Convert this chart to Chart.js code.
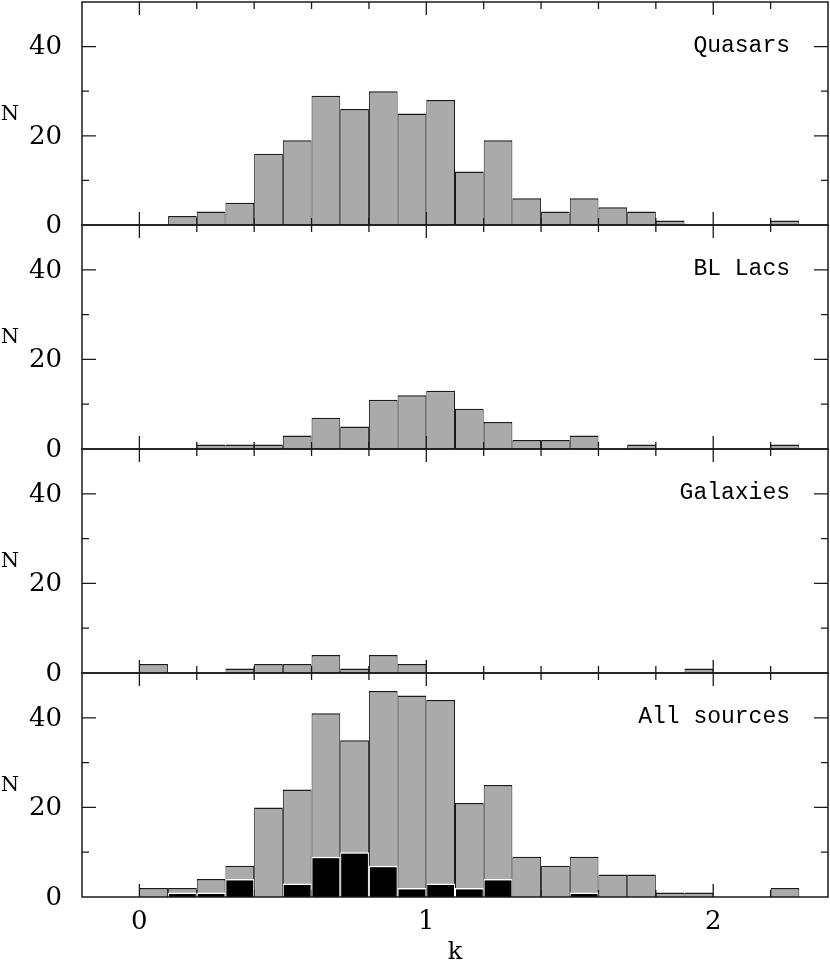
<!DOCTYPE html>
<html>
<head>
<meta charset="utf-8">
<script src="https://cdn.jsdelivr.net/npm/chart.js@4.4.1/dist/chart.umd.min.js"></script>
<style>
html,body{margin:0;padding:0;background:#ffffff;}
#wrap{position:relative;width:830px;height:966px;overflow:hidden;}
#wrap canvas{position:absolute;left:0;top:0;}
</style>
</head>
<body>
<div id="wrap">
<canvas id="c0" width="830" height="966"></canvas>
<canvas id="c1" width="830" height="966"></canvas>
<canvas id="c2" width="830" height="966"></canvas>
<canvas id="c3" width="830" height="966"></canvas>
</div>
<script>
// ---- data ----
const binCenters = [0.05,0.15,0.25,0.35,0.45,0.55,0.65,0.75,0.85,0.95,1.05,1.15,1.25,1.35,1.45,1.55,1.65,1.75,1.85,1.95,2.05,2.15,2.25,2.35];
const quasars    = [0,2,3,5,16,19,29,26,30,25,28,12,19,6,3,6,4,3,1,0,0,0,1,0];
const blLacs     = [0,0,1,1,1,3,7,5,11,12,13,9,6,2,2,3,0,1,0,0,0,0,1,0];
const galaxies   = [2,0,0,1,2,2,4,1,4,2,0,0,0,0,0,0,0,0,0,1,0,0,0,0];
const allSources = [2,2,4,7,20,24,41,35,46,45,44,21,25,9,7,9,5,5,1,1,0,0,2,0];
const allSourcesSubset = [0,1,1,4,0,3,9,10,7,2,3,2,4,0,0,1,0,0,0,0,0,0,0,0];
const panelNames = ['Quasars','BL Lacs','Galaxies','All sources'];
const xMajorTicks = [0,1,2];
const xMinorTicks = [0.2,0.4,0.6,0.8,1.2,1.4,1.6,1.8,2.2];
const xTickLabels = ['0','1','2'];
const yMajorTicks = [20,40];
const yMinorTicks = [10,30];
const yTickValues = [0,20,40];
const yTickLabels = ['0','20','40'];
const xTitle = 'k';
const yTitle = 'N';

// ---- layout ----
const W = 830, H = 966;
const PLOT_LEFT = 82, PLOT_RIGHT = 828;
const panelTops = [2,225,449,673];
const panelBottoms = [225,449,673,897];
const INK = '#1a1a1a';
const GRAY = '#aaaaaa';
const numFont = '26px "DejaVu Serif"';

const panelPlugin = {
  id: 'panel',
  beforeDatasetsDraw(chart) {
    const {ctx, chartArea: a, scales: {x, y}} = chart;
    ctx.save();
    ctx.strokeStyle = INK;
    ctx.lineWidth = 1.3;
    ctx.beginPath();
    const xt = (v, len) => {
      const px = x.getPixelForValue(v);
      ctx.moveTo(px, a.bottom); ctx.lineTo(px, a.bottom - len);
      ctx.moveTo(px, a.top); ctx.lineTo(px, a.top + len);
    };
    xMajorTicks.forEach(v => xt(v, 13));
    xMinorTicks.forEach(v => xt(v, 7));
    const yt = (v, len) => {
      const py = y.getPixelForValue(v);
      ctx.moveTo(a.left, py); ctx.lineTo(a.left + len, py);
      ctx.moveTo(a.right, py); ctx.lineTo(a.right - len, py);
    };
    yMajorTicks.forEach(v => yt(v, 14));
    yMinorTicks.forEach(v => yt(v, 7));
    ctx.stroke();
    ctx.restore();
  },
  afterDatasetsDraw(chart, args, opts) {
    const {ctx, chartArea: a, scales: {x, y}} = chart;
    ctx.save();
    ctx.strokeStyle = INK;
    ctx.lineWidth = 1.5;
    ctx.strokeRect(a.left, a.top, a.right - a.left, a.bottom - a.top);
    ctx.fillStyle = '#000';
    // y tick labels
    ctx.font = numFont;
    ctx.textAlign = 'right';
    ctx.textBaseline = 'middle';
    yTickValues.forEach((v, i) => ctx.fillText(yTickLabels[i], 62, y.getPixelForValue(v) + 1));
    // y title
    ctx.font = '21px "DejaVu Serif"';
    ctx.textAlign = 'center';
    ctx.fillText(yTitle, 10, (a.top + a.bottom) / 2 + 1);
    // panel name
    ctx.font = '23px "Liberation Mono"';
    ctx.textAlign = 'right';
    ctx.textBaseline = 'alphabetic';
    ctx.fillText(opts.name, 790, y.getPixelForValue(40) + 5);
    if (opts.showX) {
      ctx.font = numFont;
      ctx.textAlign = 'center';
      ctx.textBaseline = 'middle';
      xMajorTicks.forEach((v, i) => ctx.fillText(xTickLabels[i], x.getPixelForValue(v), 922));
      ctx.font = '24px "DejaVu Serif"';
      ctx.fillText(xTitle, (a.left + a.right) / 2, 953);
    }
    ctx.restore();
  }
};

function series(values, color, border, order) {
  return {
    data: binCenters.map((c, i) => ({x: c, y: values[i]})),
    backgroundColor: color,
    borderColor: border,
    borderWidth: {top: 1.5, left: 1, right: 1, bottom: 0},
    borderSkipped: 'start',
    barPercentage: 1,
    categoryPercentage: 1,
    grouped: false,
    order: order,
    inflateAmount: 0
  };
}

function makePanel(idx, datasets, name, showX) {
  new Chart(document.getElementById('c' + idx), {
    type: 'bar',
    data: {datasets},
    options: {
      responsive: false,
      animation: false,
      devicePixelRatio: 1,
      layout: {padding: {left: PLOT_LEFT, right: W - PLOT_RIGHT, top: panelTops[idx], bottom: H - panelBottoms[idx]}},
      plugins: {legend: {display: false}, tooltip: {enabled: false}, panel: {name, showX}},
      scales: {
        x: {
          type: 'linear', min: -0.2, max: 2.4, offset: false, display: false,
          afterBuildTicks: s => { s.ticks = xMinorTicks.concat(xMajorTicks).sort((p, q) => p - q).map(v => ({value: v})); }
        },
        y: {type: 'linear', min: 0, max: 50, display: false}
      }
    },
    plugins: [panelPlugin]
  });
}

makePanel(0, [series(quasars, GRAY, INK, 1)], panelNames[0], false);
makePanel(1, [series(blLacs, GRAY, INK, 1)], panelNames[1], false);
makePanel(2, [series(galaxies, GRAY, INK, 1)], panelNames[2], false);
makePanel(3, [series(allSourcesSubset, '#000000', '#ffffff', 0), series(allSources, GRAY, INK, 1)], panelNames[3], true);
</script>
</body>
</html>
